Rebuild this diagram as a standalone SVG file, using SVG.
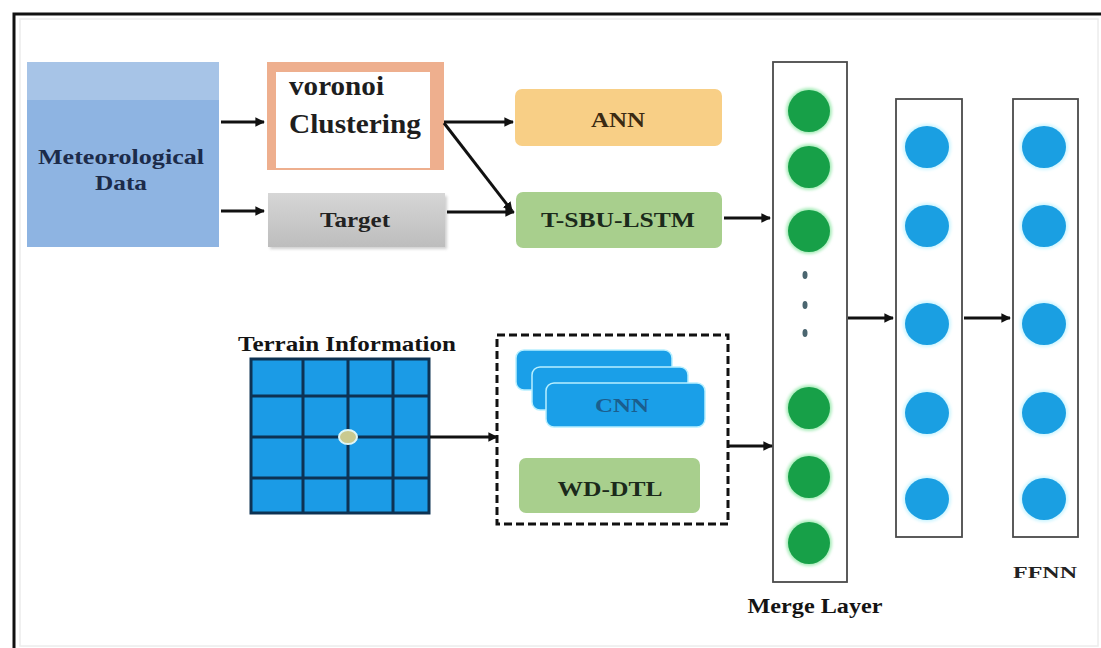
<svg xmlns="http://www.w3.org/2000/svg" width="1101" height="648" viewBox="0 0 1101 648">
  <style>
    text { font-family: "Liberation Serif", "Times New Roman", serif; font-weight: bold; }
    .mid { text-anchor: middle; }
    .conn { stroke: #111; stroke-width: 3; fill: none; marker-end: url(#arrow); }
    .layer { fill: #ffffff; stroke: #4a4a4a; stroke-width: 1.8; }
    .gcell { fill: #1b9be6; stroke: #0d3253; stroke-width: 3; }
  </style>
  <defs>
    <marker id="arrow" viewBox="0 0 10 10" refX="9" refY="5" markerWidth="3.2" markerHeight="3.2" orient="auto" markerUnits="strokeWidth">
      <path d="M0,0 L10,5 L0,10 Z" fill="#111"/>
    </marker>
    <filter id="glow" x="-40%" y="-40%" width="180%" height="180%">
      <feGaussianBlur stdDeviation="1.6"/>
    </filter>
    <filter id="soft" x="-10%" y="-20%" width="120%" height="140%">
      <feGaussianBlur stdDeviation="1.6"/>
    </filter>
    <linearGradient id="gray" x1="0" y1="0" x2="0" y2="1">
      <stop offset="0" stop-color="#d6d6d6"/>
      <stop offset="1" stop-color="#bdbdbd"/>
    </linearGradient>
    <g id="gdot">
      <circle r="23" fill="#a6ecb8" filter="url(#glow)"/>
      <circle r="21" fill="#17a048"/>
    </g>
    <g id="bdot">
      <ellipse rx="24" ry="23" fill="#cdf5ff" filter="url(#glow)"/>
      <ellipse rx="22" ry="21" fill="#1a9fe2"/>
    </g>
  </defs>

  <rect width="1101" height="648" fill="#ffffff"/>
  <!-- frame -->
  <rect x="20" y="19" width="1078" height="627" fill="none" stroke="#ececec" stroke-width="1.5"/>
  <path d="M14,648 V14 H1101" fill="none" stroke="#111" stroke-width="3"/>

  <!-- meteorological data -->
  <g id="meteorological-data">
    <rect x="27" y="62" width="192" height="185" fill="#8eb4e2"/>
    <rect x="27" y="62" width="192" height="38" fill="#a7c4e7"/>
    <text class="mid" x="121" y="164" font-size="21" fill="#1c2b4a" textLength="166" lengthAdjust="spacingAndGlyphs">Meteorological</text>
    <text class="mid" x="121" y="190" font-size="21" fill="#1c2b4a" textLength="52" lengthAdjust="spacingAndGlyphs">Data</text>
  </g>

  <!-- voronoi clustering -->
  <g id="voronoi-clustering">
    <rect x="267" y="62" width="177" height="108" fill="#eeaf8e"/>
    <rect x="276" y="72" width="154" height="96" fill="#ffffff"/>
    <text x="289" y="95" font-size="27" fill="#1e1e1e" textLength="95" lengthAdjust="spacingAndGlyphs">voronoi</text>
    <text x="289" y="133" font-size="28" fill="#1e1e1e" textLength="132" lengthAdjust="spacingAndGlyphs">Clustering</text>
  </g>

  <!-- target -->
  <g id="target">
    <rect x="270" y="196" width="177" height="53" fill="#cfcfcf" filter="url(#soft)"/>
    <rect x="268" y="193" width="177" height="54" fill="url(#gray)"/>
    <text class="mid" x="355" y="227" font-size="20" fill="#222" textLength="70" lengthAdjust="spacingAndGlyphs">Target</text>
  </g>

  <!-- ANN -->
  <g id="ann">
    <rect x="515" y="89" width="207" height="57" rx="7" fill="#f8cf86"/>
    <text class="mid" x="618" y="127" font-size="20" fill="#3b2a12" textLength="54" lengthAdjust="spacingAndGlyphs">ANN</text>
  </g>

  <!-- T-SBU-LSTM -->
  <g id="t-sbu-lstm">
    <rect x="516" y="192" width="206" height="56" rx="7" fill="#a8cf8d"/>
    <text class="mid" x="618" y="227" font-size="21" fill="#1b2a1b" textLength="154" lengthAdjust="spacingAndGlyphs">T-SBU-LSTM</text>
  </g>

  <!-- terrain information grid -->
  <g id="terrain-information">
    <text x="238" y="351" font-size="22" fill="#141414" textLength="218" lengthAdjust="spacingAndGlyphs">Terrain Information</text>
    <rect class="gcell" x="251" y="359" width="178" height="154"/>
    <path d="M303,359 V513 M348,359 V513 M393,359 V513 M251,396 H429 M251,437 H429 M251,478 H429" stroke="#0d3253" stroke-width="3" fill="none"/>
    <ellipse cx="348" cy="437" rx="9" ry="7" fill="#c9c98f" stroke="#dff6f6" stroke-width="2"/>
  </g>

  <!-- feature extraction block -->
  <g id="cnn">
    <rect x="516" y="350" width="156" height="40" rx="8" fill="#1a9fe8" stroke="#b8f0ff" stroke-width="1.5"/>
    <rect x="532" y="367" width="156" height="43" rx="8" fill="#1a9fe8" stroke="#b8f0ff" stroke-width="1.5"/>
    <rect x="546" y="383" width="159" height="44" rx="8" fill="#1a9fe8" stroke="#b8f0ff" stroke-width="1.5"/>
    <text class="mid" x="622" y="412" font-size="19" fill="#1b5e8e" textLength="54" lengthAdjust="spacingAndGlyphs">CNN</text>
  </g>
  <g id="wd-dtl">
    <rect x="519" y="458" width="181" height="55" rx="7" fill="#a8cf8d"/>
    <text class="mid" x="610" y="496" font-size="22" fill="#1b2a1b" textLength="105" lengthAdjust="spacingAndGlyphs">WD-DTL</text>
  </g>
  <g id="feature-block">
    <rect x="497" y="335" width="231" height="189" fill="none" stroke="#111" stroke-width="3" stroke-dasharray="8 4"/>
  </g>

  <!-- merge layer -->
  <g id="merge-layer">
    <rect class="layer" x="773" y="62" width="74" height="520" stroke="#333"/>
    <use href="#gdot" x="809" y="111"/>
    <use href="#gdot" x="809" y="167"/>
    <use href="#gdot" x="809" y="231"/>
    <ellipse cx="805" cy="275" rx="2.5" ry="4" fill="#4b6670"/>
    <ellipse cx="805" cy="305" rx="2.5" ry="4" fill="#4b6670"/>
    <ellipse cx="805" cy="333" rx="2.5" ry="4" fill="#4b6670"/>
    <use href="#gdot" x="809" y="408"/>
    <use href="#gdot" x="809" y="477"/>
    <use href="#gdot" x="809" y="543"/>
    <text class="mid" x="815" y="613" font-size="20" fill="#141414" textLength="135" lengthAdjust="spacingAndGlyphs">Merge Layer</text>
  </g>

  <!-- hidden layer -->
  <g id="hidden-layer">
    <rect class="layer" x="896" y="99" width="66" height="438"/>
    <use href="#bdot" x="927" y="147"/>
    <use href="#bdot" x="927" y="226"/>
    <use href="#bdot" x="927" y="324"/>
    <use href="#bdot" x="927" y="413"/>
    <use href="#bdot" x="927" y="499"/>
  </g>

  <!-- output layer -->
  <g id="ffnn">
    <rect class="layer" x="1013" y="99" width="65" height="438"/>
    <use href="#bdot" x="1044" y="147"/>
    <use href="#bdot" x="1044" y="226"/>
    <use href="#bdot" x="1044" y="324"/>
    <use href="#bdot" x="1044" y="413"/>
    <use href="#bdot" x="1044" y="499"/>
    <text class="mid" x="1045" y="578" font-size="17" fill="#222" textLength="64" lengthAdjust="spacingAndGlyphs">FFNN</text>
  </g>

  <!-- connectors -->
  <g id="connectors">
    <line class="conn" x1="221" y1="122" x2="264" y2="122"/>
    <line class="conn" x1="221" y1="211" x2="264" y2="211"/>
    <line class="conn" x1="444" y1="122" x2="513" y2="122"/>
    <line class="conn" x1="444" y1="123" x2="512" y2="211"/>
    <line class="conn" x1="447" y1="212" x2="514" y2="212"/>
    <line class="conn" x1="724" y1="218" x2="770" y2="218"/>
    <line class="conn" x1="430" y1="437" x2="497" y2="437"/>
    <line class="conn" x1="729" y1="446" x2="772" y2="446"/>
    <line class="conn" x1="848" y1="318" x2="893" y2="318"/>
    <line class="conn" x1="964" y1="318" x2="1010" y2="318"/>
  </g>
</svg>
